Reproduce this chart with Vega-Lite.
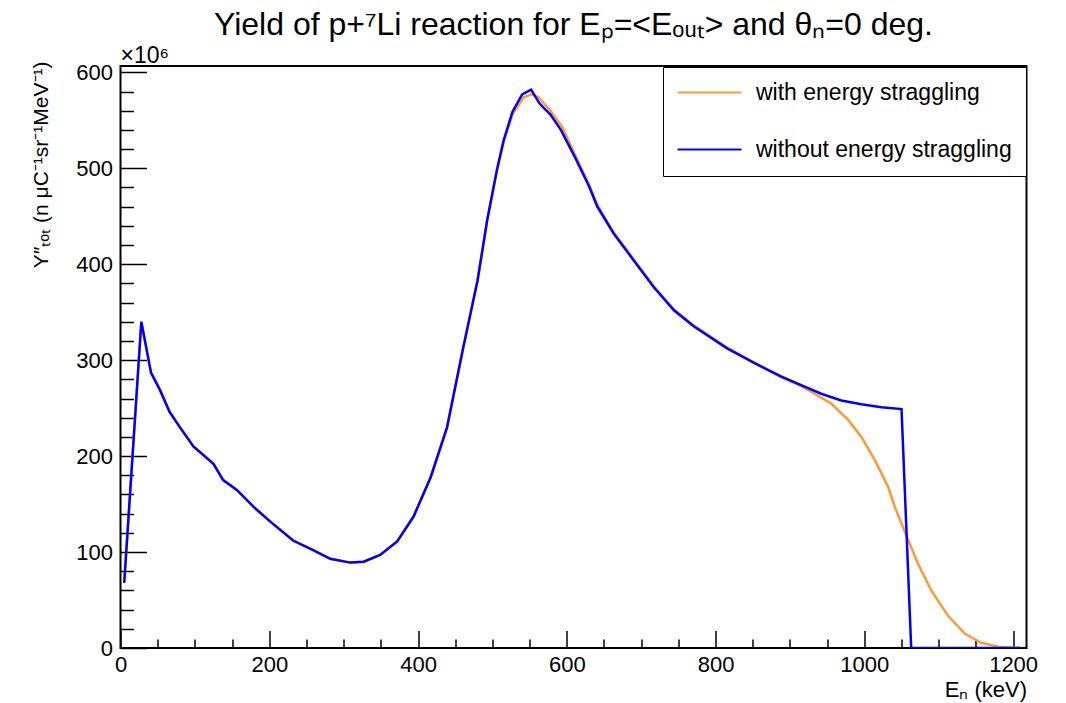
{
  "$schema": "https://vega.github.io/schema/vega-lite/v6.json",
  "autosize": {"type": "none"},
  "padding": {"left": 120.5, "top": 66, "right": 39.5, "bottom": 55},
  "width": 906,
  "height": 582,
  "background": "white",
  "config": {
    "font": "Liberation Sans",
    "view": {"stroke": "black", "strokeWidth": 2},
    "axis": {"labelFont": "Liberation Sans", "labelColor": "black", "titleColor": "black", "titleFont": "Liberation Sans", "titleFontWeight": "normal", "domain": false, "grid": false, "tickColor": "black", "tickWidth": 1.5}
  },
  "title": {"text": "Yield of p+⁷Li reaction for Eₚ=<Eₒᵤₜ> and θₙ=0 deg.", "fontSize": 32, "font": "Liberation Sans", "fontWeight": "normal", "color": "black", "anchor": "middle", "frame": "group", "baseline": "alphabetic", "offset": -22},
  "datasets": {
    "curves": [
      {"s": "with energy straggling", "E": 5, "Y": 68},
      {"s": "with energy straggling", "E": 28, "Y": 340},
      {"s": "with energy straggling", "E": 41, "Y": 287},
      {"s": "with energy straggling", "E": 53, "Y": 269},
      {"s": "with energy straggling", "E": 66, "Y": 246},
      {"s": "with energy straggling", "E": 80, "Y": 230},
      {"s": "with energy straggling", "E": 98, "Y": 210},
      {"s": "with energy straggling", "E": 125, "Y": 192},
      {"s": "with energy straggling", "E": 138, "Y": 175},
      {"s": "with energy straggling", "E": 156, "Y": 165},
      {"s": "with energy straggling", "E": 179, "Y": 147},
      {"s": "with energy straggling", "E": 201, "Y": 132},
      {"s": "with energy straggling", "E": 232, "Y": 112},
      {"s": "with energy straggling", "E": 259, "Y": 102},
      {"s": "with energy straggling", "E": 282, "Y": 93},
      {"s": "with energy straggling", "E": 309, "Y": 89},
      {"s": "with energy straggling", "E": 327, "Y": 90},
      {"s": "with energy straggling", "E": 349, "Y": 97},
      {"s": "with energy straggling", "E": 372, "Y": 111},
      {"s": "with energy straggling", "E": 394, "Y": 137},
      {"s": "with energy straggling", "E": 417, "Y": 178},
      {"s": "with energy straggling", "E": 439, "Y": 230},
      {"s": "with energy straggling", "E": 461, "Y": 314},
      {"s": "with energy straggling", "E": 480, "Y": 383},
      {"s": "with energy straggling", "E": 493, "Y": 446},
      {"s": "with energy straggling", "E": 506, "Y": 498},
      {"s": "with energy straggling", "E": 515, "Y": 527},
      {"s": "with energy straggling", "E": 527, "Y": 556},
      {"s": "with energy straggling", "E": 542, "Y": 574},
      {"s": "with energy straggling", "E": 553, "Y": 577},
      {"s": "with energy straggling", "E": 562, "Y": 574},
      {"s": "with energy straggling", "E": 578, "Y": 560},
      {"s": "with energy straggling", "E": 594, "Y": 543},
      {"s": "with energy straggling", "E": 610, "Y": 516},
      {"s": "with energy straggling", "E": 630, "Y": 483},
      {"s": "with energy straggling", "E": 641, "Y": 462},
      {"s": "with energy straggling", "E": 663, "Y": 433},
      {"s": "with energy straggling", "E": 690, "Y": 405},
      {"s": "with energy straggling", "E": 717, "Y": 377},
      {"s": "with energy straggling", "E": 744, "Y": 353},
      {"s": "with energy straggling", "E": 771, "Y": 336},
      {"s": "with energy straggling", "E": 816, "Y": 313},
      {"s": "with energy straggling", "E": 850, "Y": 298},
      {"s": "with energy straggling", "E": 888, "Y": 282},
      {"s": "with energy straggling", "E": 915, "Y": 273},
      {"s": "with energy straggling", "E": 933, "Y": 265},
      {"s": "with energy straggling", "E": 955, "Y": 255},
      {"s": "with energy straggling", "E": 978, "Y": 238},
      {"s": "with energy straggling", "E": 996, "Y": 220},
      {"s": "with energy straggling", "E": 1014, "Y": 196},
      {"s": "with energy straggling", "E": 1023, "Y": 182},
      {"s": "with energy straggling", "E": 1032, "Y": 168},
      {"s": "with energy straggling", "E": 1041, "Y": 147},
      {"s": "with energy straggling", "E": 1056, "Y": 118},
      {"s": "with energy straggling", "E": 1072, "Y": 88},
      {"s": "with energy straggling", "E": 1090, "Y": 60},
      {"s": "with energy straggling", "E": 1113, "Y": 33},
      {"s": "with energy straggling", "E": 1135, "Y": 15},
      {"s": "with energy straggling", "E": 1157, "Y": 5.5},
      {"s": "with energy straggling", "E": 1180, "Y": 1.4},
      {"s": "with energy straggling", "E": 1202, "Y": 0.3},
      {"s": "with energy straggling", "E": 1210, "Y": 0.2},
      {"s": "without energy straggling", "E": 5, "Y": 68},
      {"s": "without energy straggling", "E": 28, "Y": 340},
      {"s": "without energy straggling", "E": 41, "Y": 287},
      {"s": "without energy straggling", "E": 53, "Y": 269},
      {"s": "without energy straggling", "E": 66, "Y": 246},
      {"s": "without energy straggling", "E": 80, "Y": 230},
      {"s": "without energy straggling", "E": 98, "Y": 210},
      {"s": "without energy straggling", "E": 125, "Y": 192},
      {"s": "without energy straggling", "E": 138, "Y": 175},
      {"s": "without energy straggling", "E": 156, "Y": 165},
      {"s": "without energy straggling", "E": 179, "Y": 147},
      {"s": "without energy straggling", "E": 201, "Y": 132},
      {"s": "without energy straggling", "E": 232, "Y": 112},
      {"s": "without energy straggling", "E": 259, "Y": 102},
      {"s": "without energy straggling", "E": 282, "Y": 93},
      {"s": "without energy straggling", "E": 309, "Y": 89},
      {"s": "without energy straggling", "E": 327, "Y": 90},
      {"s": "without energy straggling", "E": 349, "Y": 97},
      {"s": "without energy straggling", "E": 372, "Y": 111},
      {"s": "without energy straggling", "E": 394, "Y": 137},
      {"s": "without energy straggling", "E": 417, "Y": 178},
      {"s": "without energy straggling", "E": 439, "Y": 230},
      {"s": "without energy straggling", "E": 461, "Y": 314},
      {"s": "without energy straggling", "E": 480, "Y": 383},
      {"s": "without energy straggling", "E": 493, "Y": 446},
      {"s": "without energy straggling", "E": 506, "Y": 498},
      {"s": "without energy straggling", "E": 515, "Y": 529},
      {"s": "without energy straggling", "E": 527, "Y": 559},
      {"s": "without energy straggling", "E": 540, "Y": 577},
      {"s": "without energy straggling", "E": 552, "Y": 582},
      {"s": "without energy straggling", "E": 563, "Y": 568},
      {"s": "without energy straggling", "E": 569, "Y": 563},
      {"s": "without energy straggling", "E": 578, "Y": 556},
      {"s": "without energy straggling", "E": 592, "Y": 540},
      {"s": "without energy straggling", "E": 610, "Y": 513},
      {"s": "without energy straggling", "E": 630, "Y": 481},
      {"s": "without energy straggling", "E": 641, "Y": 460},
      {"s": "without energy straggling", "E": 663, "Y": 432},
      {"s": "without energy straggling", "E": 690, "Y": 404},
      {"s": "without energy straggling", "E": 717, "Y": 376},
      {"s": "without energy straggling", "E": 744, "Y": 352},
      {"s": "without energy straggling", "E": 771, "Y": 335},
      {"s": "without energy straggling", "E": 816, "Y": 312},
      {"s": "without energy straggling", "E": 850, "Y": 298},
      {"s": "without energy straggling", "E": 888, "Y": 283},
      {"s": "without energy straggling", "E": 915, "Y": 274},
      {"s": "without energy straggling", "E": 942, "Y": 265},
      {"s": "without energy straggling", "E": 969, "Y": 258},
      {"s": "without energy straggling", "E": 996, "Y": 254},
      {"s": "without energy straggling", "E": 1023, "Y": 251},
      {"s": "without energy straggling", "E": 1050, "Y": 249},
      {"s": "without energy straggling", "E": 1063, "Y": 0},
      {"s": "without energy straggling", "E": 1210, "Y": 0}
    ]
  },
  "data": {"name": "curves"},
  "layer": [
    {
      "mark": {"type": "line", "strokeWidth": 2.5, "clip": true},
      "encoding": {
        "x": {"field": "E", "type": "quantitative", "scale": {"domain": [0, 1218], "nice": false, "zero": false},
          "axis": {"orient": "bottom", "ticks": false, "values": [0, 200, 400, 600, 800, 1000, 1200], "format": "d", "labelFontSize": 22, "labelPadding": 6, "labelFlush": false, "labelOverlap": false,
            "title": "Eₙ (keV)", "titleFontSize": 22, "titleAnchor": "end", "titleAlign": "right", "titleX": 906, "titleY": 48, "titleBaseline": "alphabetic"}},
        "y": {"field": "Y", "type": "quantitative", "scale": {"domain": [0, 606.6], "nice": false, "zero": false},
          "axis": {"orient": "left", "ticks": false, "values": [0, 100, 200, 300, 400, 500, 600], "format": "d", "labelFontSize": 22, "labelPadding": 8, "labelOverlap": false,
            "title": "Y″ₜₒₜ (n   μC⁻¹sr⁻¹MeV⁻¹)", "titleFontSize": 21, "titleAngle": 270, "titleAlign": "right", "titleBaseline": "middle", "titleX": -79, "titleY": -5}},
        "color": {"field": "s", "type": "nominal",
          "scale": {"domain": ["with energy straggling", "without energy straggling"], "range": ["#ff9933", "#0000ff"]},
          "legend": {"orient": "none", "legendX": 542.5, "legendY": 1, "title": null, "padding": 14, "strokeColor": "black", "fillColor": "white",
            "symbolType": "M-1.1,0H5.3", "symbolSize": 400, "symbolStrokeWidth": 2, "labelFontSize": 23, "labelFont": "Liberation Sans", "labelColor": "black",
            "labelOffset": 56, "rowPadding": 33, "labelLimit": 500, "cornerRadius": 0}}
      }
    },
    {
      "mark": {"type": "line", "strokeOpacity": 0},
      "encoding": {
        "x": {"field": "E", "type": "quantitative", "axis": {"orient": "bottom", "labels": false, "ticks": true, "tickSize": -17.5, "values": [0, 200, 400, 600, 800, 1000, 1200], "title": null}},
        "y": {"field": "Y", "type": "quantitative", "axis": {"orient": "left", "labels": false, "ticks": true, "tickSize": -26, "values": [0, 100, 200, 300, 400, 500, 600], "title": null}},
        "detail": {"field": "s"}
      }
    },
    {
      "mark": {"type": "line", "strokeOpacity": 0},
      "encoding": {
        "x": {"field": "E", "type": "quantitative", "axis": {"orient": "bottom", "labels": false, "ticks": true, "tickSize": -9, "values": [50, 100, 150, 250, 300, 350, 450, 500, 550, 650, 700, 750, 850, 900, 950, 1050, 1100, 1150], "title": null}},
        "y": {"field": "Y", "type": "quantitative", "axis": {"orient": "left", "labels": false, "ticks": true, "tickSize": -13, "values": [20, 40, 60, 80, 120, 140, 160, 180, 220, 240, 260, 280, 320, 340, 360, 380, 420, 440, 460, 480, 520, 540, 560, 580], "title": null}},
        "detail": {"field": "s"}
      }
    },
    {
      "data": {"values": [{}]},
      "mark": {"type": "text", "text": "×10⁶", "align": "left", "baseline": "alphabetic", "dy": -3, "fontSize": 23, "font": "Liberation Sans", "color": "black"},
      "encoding": {
        "x": {"datum": 0, "type": "quantitative", "axis": null},
        "y": {"datum": 606.6, "type": "quantitative", "axis": null}
      }
    }
  ],
  "resolve": {"axis": {"x": "independent", "y": "independent"}}
}
